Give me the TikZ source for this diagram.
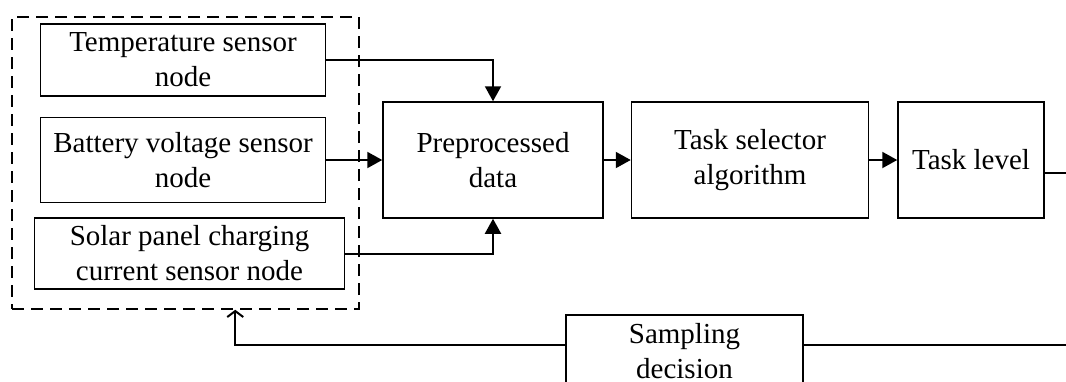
\documentclass[tikz,border=0pt]{standalone}
\usepackage{fontspec}
\setmainfont{Liberation Serif}
\usetikzlibrary{positioning}
\usetikzlibrary{arrows.meta}
\tikzset{x=1pt, y=-1pt,
         node distance=27pt,
         block/.style={draw, line width=1.5pt, align=center, inner sep=0pt,
                       minimum height=116pt, font=\fontsize{29}{35}\selectfont},
         grp/.style={draw, dash pattern=on 12pt off 7pt, line width=1.5pt, inner sep=0pt},
         wire/.style={draw, line width=2pt},
         conn/.style={wire, -{Triangle[length=15pt,width=16pt]}},
         back/.style={wire, -{Straight Barb[length=6pt,width=16pt]}} }

\begin{document}
\begin{tikzpicture}
    \useasboundingbox (0,0) rectangle (1066,381);
    \clip (0,0) rectangle (1066,381);
    \node[grp, minimum width=347pt, minimum height=292pt] (grp) at (185.5,163) {};
    \node[block, minimum width=220pt] (pre) at (493,160) {Preprocessed\\data};
    \node[block, minimum width=237pt, right=27pt of pre] (sel) {Task selector\\algorithm};
    \node[block, minimum width=146pt, right=28pt of sel] (lvl) {Task level};
    \node[block, minimum width=285pt, minimum height=85pt, left=56pt of pre] (bat) {Battery voltage sensor\\node};
    \node[block, minimum width=285pt, minimum height=72pt, above=20pt of bat] (temp) {Temperature sensor\\node};
    \node[block, minimum width=310pt, minimum height=71pt, below=14pt of bat, xshift=6.5pt] (sol) {Solar panel charging\\current sensor node};
    \node[block, minimum width=237pt, minimum height=72pt] (samp) at (684.5,351) {Sampling\\decision};
    \draw[conn] (temp.east) -| (pre.north);
    \draw[conn] (bat.east) -- (bat.east -| pre.west);
    \draw[conn] (sol.east) -| (pre.south);
    \draw[conn] (pre) -- (sel);
    \draw[conn] (sel) -- (lvl);
    \draw[wire] ([yshift=-13pt]lvl.east) -- ++(45,0) |- ([yshift=6pt]samp.east);
    \draw[back] ([yshift=6pt]samp.west) -| ([xshift=224pt]grp.south west);
\end{tikzpicture}
\end{document}
